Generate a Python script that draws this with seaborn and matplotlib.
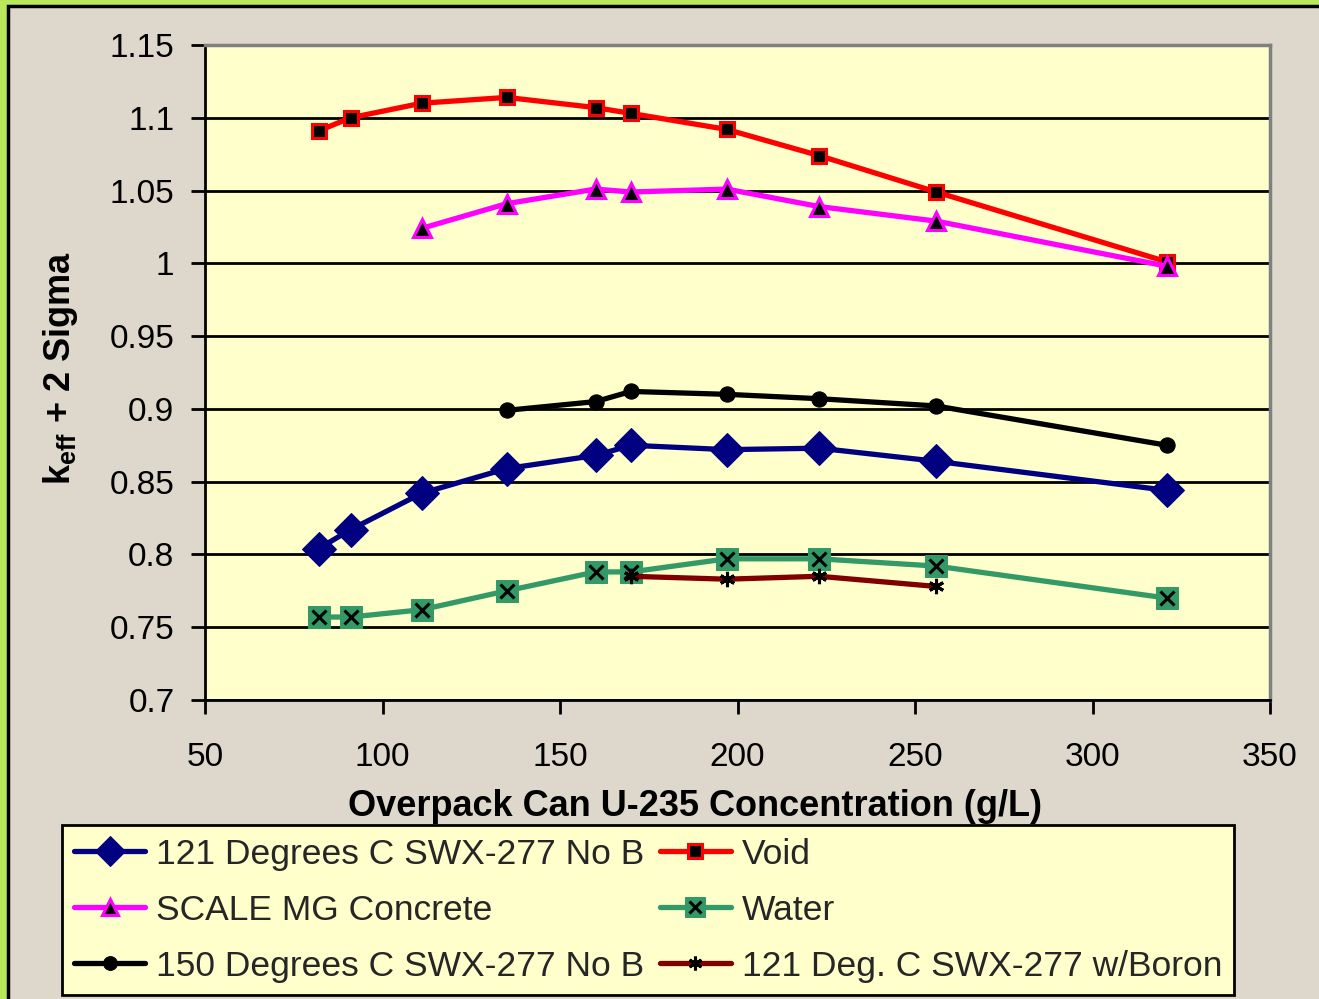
import matplotlib
matplotlib.use("Agg")
import matplotlib.pyplot as plt
from matplotlib.patches import Rectangle
from matplotlib.legend_handler import HandlerTuple
import seaborn as sns
import pandas as pd

# ---------------- data ----------------
x_all = [82, 91, 111, 135, 160, 170, 197, 223, 256, 321]
x_concrete = [111, 135, 160, 170, 197, 223, 256, 321]
x_150 = [135, 160, 170, 197, 223, 256, 321]
x_boron = [170, 197, 223, 256]

k_121_nob = [0.804, 0.817, 0.842, 0.859, 0.868, 0.875, 0.872, 0.873, 0.864, 0.844]
k_void = [1.091, 1.100, 1.110, 1.114, 1.107, 1.103, 1.092, 1.074, 1.049, 1.001]
k_concrete = [1.024, 1.041, 1.051, 1.049, 1.051, 1.039, 1.029, 0.998]
k_water = [0.757, 0.757, 0.762, 0.775, 0.788, 0.788, 0.797, 0.797, 0.792, 0.770]
k_150_nob = [0.899, 0.905, 0.912, 0.910, 0.907, 0.902, 0.875]
k_boron = [0.785, 0.783, 0.785, 0.778]

labels = ["121 Degrees C SWX-277 No B", "Void", "SCALE MG Concrete", "Water",
          "150 Degrees C SWX-277 No B", "121 Deg. C SWX-277 w/Boron"]

x_ticks = [50, 100, 150, 200, 250, 300, 350]
y_ticks = [0.7, 0.75, 0.8, 0.85, 0.9, 0.95, 1.0, 1.05, 1.1, 1.15]
y_ticklabels = ["0.7", "0.75", "0.8", "0.85", "0.9", "0.95", "1", "1.05", "1.1", "1.15"]

# ---------------- style ----------------
sns.set_theme(style="white")
plt.rcParams["font.family"] = ["Liberation Sans", "DejaVu Sans"]
plt.rcParams["mathtext.fontset"] = "custom"
plt.rcParams["mathtext.rm"] = "Liberation Sans"
plt.rcParams["mathtext.bf"] = "Liberation Sans:bold"

W, H = 1319, 999
fig = plt.figure(figsize=(W / 100, H / 100), dpi=100)
fig.patch.set_facecolor("#b9e85c")

# beige background panel
bg = fig.add_axes([0, 0, 1, 1], zorder=-5)
bg.set_axis_off()
bg.set_xlim(0, 1)
bg.set_ylim(0, 1)
bg.add_patch(Rectangle((8 / W, -0.01), 1, 1.01 - 6 / H, facecolor="#ddd8cb",
                       edgecolor="black", linewidth=2.5))

ax = fig.add_axes([205 / W, 1 - 700 / H, (1270 - 205) / W, (700 - 45) / H])
ax.set_facecolor("#ffffcc")

lw = 3.8


def draw(xs, ys, **kw):
    df = pd.DataFrame({"x": xs, "y": ys})
    sns.lineplot(data=df, x="x", y="y", ax=ax, sort=False, estimator=None, **kw)
    line = ax.lines[-1]
    line.set_linewidth(lw)
    return line


h_blue = draw(x_all, k_121_nob, color="#000080", marker="D", markersize=17,
              markerfacecolor="#000080", markeredgecolor="#000080", zorder=5)
h_void = draw(x_all, k_void, color="#ff0000", marker="s", markersize=10.5,
              markerfacecolor="black", markeredgecolor="#ff0000", markeredgewidth=2.2,
              zorder=5)
h_conc = draw(x_concrete, k_concrete, color="#ff00ff", marker="^", markersize=13,
              markerfacecolor="black", markeredgecolor="#ff00ff", markeredgewidth=2.2,
              zorder=5)
h_water = draw(x_all, k_water, color="#339966", marker="s", markersize=16,
               markerfacecolor="#339966", markeredgecolor="#339966", zorder=4)
h_water_x = draw(x_all, k_water, color="black", linestyle="none", marker="x",
                 markersize=10, markeredgewidth=2.2, markeredgecolor="black",
                 zorder=4.5)
h_150 = draw(x_150, k_150_nob, color="black", marker="o", markersize=11,
             markerfacecolor="black", markeredgecolor="black", zorder=5)
h_boron = draw(x_boron, k_boron, color="#800000", marker=(6, 2, 0), markersize=11,
               markerfacecolor="black", markeredgecolor="black", markeredgewidth=2.2,
               zorder=4.6)
if ax.get_legend() is not None:
    ax.get_legend().remove()

ax.set_xlim(50, 350)
ax.set_ylim(0.7, 1.15)
ax.set_xticks(x_ticks)
ax.set_yticks(y_ticks)
ax.set_yticklabels(y_ticklabels)
ax.grid(axis="y", color="black", linewidth=2)
ax.grid(axis="x", visible=False)
ax.set_axisbelow(True)

for s in ["top", "right"]:
    ax.spines[s].set_color("#808080")
    ax.spines[s].set_linewidth(2.5)
for s in ["left", "bottom"]:
    ax.spines[s].set_color("black")
    ax.spines[s].set_linewidth(2)

ax.tick_params(axis="both", which="major", direction="out", length=10, width=2,
               color="black", labelsize=24, labelcolor="black")
ax.tick_params(axis="y", pad=12, left=True)
ax.tick_params(axis="x", pad=20, bottom=True)

ax.set_xlabel("Overpack Can U-235 Concentration (g/L)", fontsize=26,
              fontweight="bold", color="black")
ax.xaxis.set_label_coords(695 / W, 1 - 789 / H, transform=fig.transFigure)
ax.set_ylabel(r"$\mathbf{k_{eff}}$ + 2 Sigma", fontsize=26, fontweight="bold",
              color="black")
ax.yaxis.set_label_coords(80 / W, 1 - 368 / H, transform=fig.transFigure)

handles = [h_blue, h_conc, h_150, h_void, (h_water, h_water_x), h_boron]
leg_labels = [labels[0], labels[2], labels[4], labels[1], labels[3], labels[5]]
leg = fig.legend(handles, leg_labels, ncol=2, loc="lower left",
                 bbox_to_anchor=(62 / W, 4 / H), borderaxespad=0,
                 fontsize=25.5, frameon=True, fancybox=False,
                 facecolor="#ffffcc", edgecolor="black", framealpha=1,
                 handlelength=2.0, handletextpad=0.3, columnspacing=0.45,
                 labelspacing=0.65, borderpad=0.35, markerscale=0.9,
                 handler_map={tuple: HandlerTuple(ndivide=1)})
leg.get_frame().set_linewidth(2)
leg.set_zorder(10)

fig.savefig("out.png", dpi=100, facecolor=fig.get_facecolor())
